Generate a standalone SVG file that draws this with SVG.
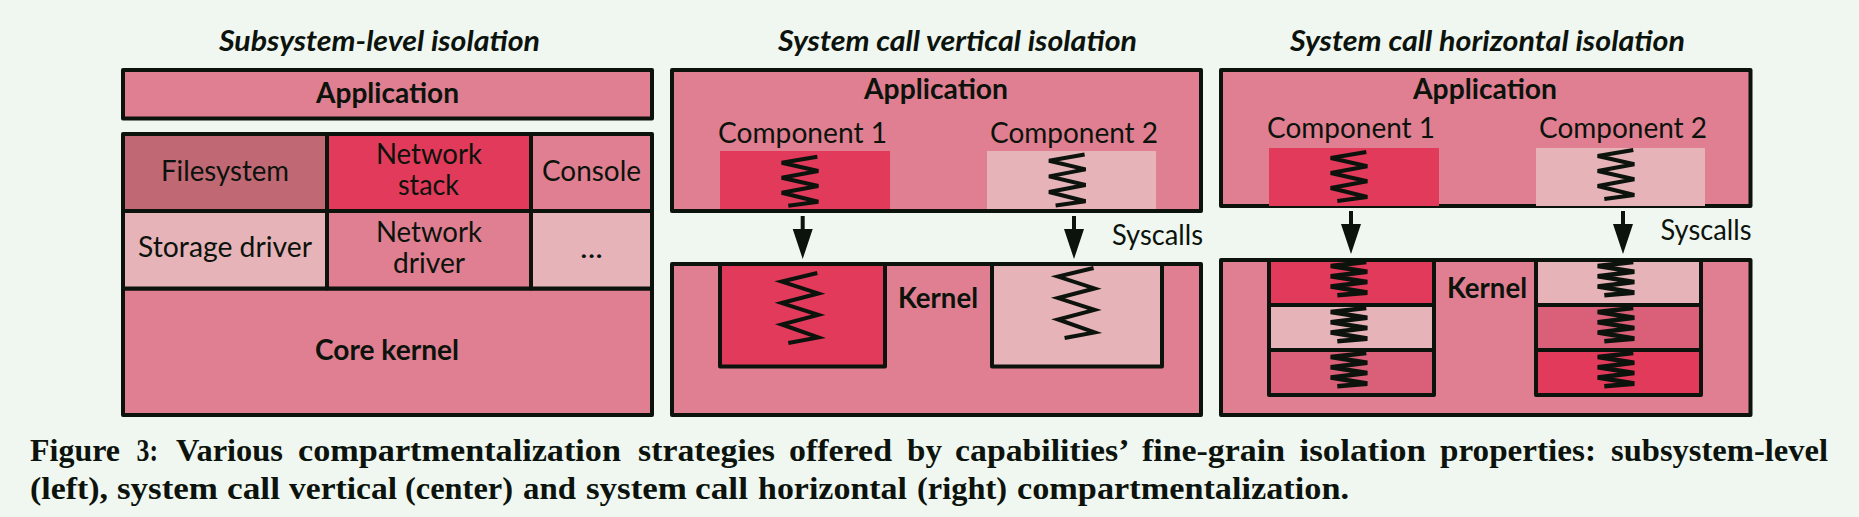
<svg xmlns="http://www.w3.org/2000/svg" width="1859" height="517" viewBox="0 0 1859 517">
<style>
.b{stroke:#0c130c;stroke-width:4;stroke-linejoin:round}
.m{fill:#e07f91}.r{fill:#e23a5a}.l{fill:#e6b3b9}.d{fill:#c06874}.v{fill:#d96078}
text{font-family:Lato,"Liberation Sans",sans-serif;fill:#0c130c}
.t{font-size:29px}
.h{font-size:29px;font-weight:700}
.i{font-size:29px;font-weight:700;font-style:italic}
.c{font-family:"Liberation Serif",serif;font-size:31px;font-weight:700}
.s{fill:none;stroke:#0c130c;stroke-width:4;vector-effect:non-scaling-stroke}
.k{fill:none;stroke:#0c130c;stroke-width:4.600;vector-effect:non-scaling-stroke}
</style>
<defs>
<path id="sp" class="s" d="M35.600,0 L0,6 L36.600,14.300 L0,21 L36.600,29.300 L0,36 L36.600,45 L6.600,49"/>
<path id="sk" class="k" d="M35.600,0 L0,6 L36.600,14.300 L0,21 L36.600,29.300 L0,36 L36.600,45 L6.600,49"/>
<path id="ar" fill="#0c130c" d="M-2,0 h4 v13 h8 l-10,30 l-10,-30 h8 z"/>
</defs>
<rect width="1859" height="517" fill="#f0f7f1"/>
<text class="i" x="219" y="51" textLength="321" lengthAdjust="spacingAndGlyphs">Subsystem-level isolation</text>
<text class="i" x="778" y="51" textLength="359" lengthAdjust="spacingAndGlyphs">System call vertical isolation</text>
<text class="i" x="1290" y="51" textLength="395" lengthAdjust="spacingAndGlyphs">System call horizontal isolation</text>

<g id="left-application"><rect class="b m" x="123" y="70" width="529" height="48.500"/><text class="h" x="316" y="102.500" textLength="143" lengthAdjust="spacingAndGlyphs">Application</text></g>
<g id="left-core-kernel"><rect class="b m" x="123" y="288.500" width="529" height="126.500"/><text class="h" x="315" y="359.500" textLength="144" lengthAdjust="spacingAndGlyphs">Core kernel</text></g>
<g id="left-filesystem"><rect class="b d" x="123" y="134" width="204" height="77"/><text class="t" x="161" y="180.500" textLength="128" lengthAdjust="spacingAndGlyphs">Filesystem</text></g>
<g id="left-network-stack"><rect class="b r" x="327" y="134" width="204" height="77"/><text class="t"><tspan x="376" y="164" textLength="106" lengthAdjust="spacingAndGlyphs">Network</tspan> <tspan x="398" y="195" textLength="61" lengthAdjust="spacingAndGlyphs">stack</tspan></text></g>
<g id="left-console"><rect class="b m" x="531" y="134" width="121" height="77"/><text class="t" x="542" y="180.500" textLength="99" lengthAdjust="spacingAndGlyphs">Console</text></g>
<g id="left-storage-driver"><rect class="b l" x="123" y="211" width="204" height="77.500"/><text class="t" x="138" y="257" textLength="174" lengthAdjust="spacingAndGlyphs">Storage driver</text></g>
<g id="left-network-driver"><rect class="b m" x="327" y="211" width="204" height="77.500"/><text class="t"><tspan x="376" y="242" textLength="106" lengthAdjust="spacingAndGlyphs">Network</tspan> <tspan x="393" y="273" textLength="72" lengthAdjust="spacingAndGlyphs">driver</tspan></text></g>
<g id="left-more"><rect class="b l" x="531" y="211" width="121" height="77.500"/><text class="t" x="580" y="258" textLength="23" lengthAdjust="spacingAndGlyphs">...</text></g>

<g id="center-application"><rect class="b m" x="672" y="70" width="529" height="141"/><text class="h" x="864" y="99" textLength="144" lengthAdjust="spacingAndGlyphs">Application</text></g>
<g id="center-component-1"><text class="t" x="718" y="142.500" textLength="169" lengthAdjust="spacingAndGlyphs">Component 1</text><rect class="r" x="720" y="151" width="170" height="58"/><use href="#sp" transform="translate(781.700,156.700)"/></g>
<g id="center-component-2"><text class="t" x="990" y="142.500" textLength="168" lengthAdjust="spacingAndGlyphs">Component 2</text><rect class="l" x="987" y="151" width="169" height="58"/><use href="#sp" transform="translate(1049,154.500) scale(1,1.040)"/></g>
<g id="center-kernel"><rect class="b m" x="672" y="264" width="529" height="151"/><text class="h" x="898" y="308" textLength="80" lengthAdjust="spacingAndGlyphs">Kernel</text></g>
<g id="center-kernel-1"><rect class="b r" x="720" y="264" width="165" height="102.500"/><use href="#sp" transform="translate(781.700,273) scale(1,1.430)"/></g>
<g id="center-kernel-2"><rect class="b l" x="992" y="264" width="170" height="102.500"/><use href="#sp" transform="translate(1058,268) scale(1,1.430)"/></g>
<text class="t" x="1112" y="245" textLength="91" lengthAdjust="spacingAndGlyphs">Syscalls</text>

<g id="right-application"><rect class="b m" x="1221" y="70" width="529.500" height="136"/><text class="h" x="1413" y="99" textLength="144" lengthAdjust="spacingAndGlyphs">Application</text></g>
<g id="right-component-1"><text class="t" x="1267" y="138" textLength="168" lengthAdjust="spacingAndGlyphs">Component 1</text><rect class="r" x="1269" y="148" width="170" height="58"/><use href="#sp" transform="translate(1330.700,152)"/></g>
<g id="right-component-2"><text class="t" x="1539" y="138" textLength="168" lengthAdjust="spacingAndGlyphs">Component 2</text><rect class="l" x="1536" y="148" width="169" height="58"/><use href="#sp" transform="translate(1597.700,150)"/></g>
<g id="right-kernel"><rect class="b m" x="1221" y="260" width="529.500" height="155"/><text class="h" x="1447" y="298" textLength="80" lengthAdjust="spacingAndGlyphs">Kernel</text></g>
<g id="right-stack-1">
<rect class="b r" x="1269" y="260" width="165" height="45"/><use href="#sk" transform="translate(1330.700,262) scale(1,0.680)"/>
<rect class="b l" x="1269" y="305" width="165" height="45"/><use href="#sk" transform="translate(1330.700,308) scale(1,0.680)"/>
<rect class="b v" x="1269" y="350" width="165" height="45"/><use href="#sk" transform="translate(1330.700,353) scale(1,0.680)"/>
</g>
<g id="right-stack-2">
<rect class="b l" x="1536" y="260" width="165" height="45"/><use href="#sk" transform="translate(1597.700,262) scale(1,0.680)"/>
<rect class="b v" x="1536" y="305" width="165" height="45"/><use href="#sk" transform="translate(1597.700,308) scale(1,0.680)"/>
<rect class="b r" x="1536" y="350" width="165" height="45"/><use href="#sk" transform="translate(1597.700,353) scale(1,0.680)"/>
</g>
<text class="t" x="1660.500" y="240" textLength="91" lengthAdjust="spacingAndGlyphs">Syscalls</text>

<g id="connectors">
<use href="#ar" x="802.700" y="216"/>
<use href="#ar" x="1074" y="216"/>
<use href="#ar" x="1351" y="211"/>
<use href="#ar" x="1623" y="211"/>
</g>

<text class="c" y="460.500"><tspan x="30" textLength="90" lengthAdjust="spacingAndGlyphs">Figure</tspan> <tspan x="136.500" textLength="21.500" lengthAdjust="spacingAndGlyphs">3:</tspan> <tspan x="176" textLength="107" lengthAdjust="spacingAndGlyphs">Various</tspan> <tspan x="298" textLength="323" lengthAdjust="spacingAndGlyphs">compartmentalization</tspan> <tspan x="638" textLength="137" lengthAdjust="spacingAndGlyphs">strategies</tspan> <tspan x="789" textLength="103" lengthAdjust="spacingAndGlyphs">offered</tspan> <tspan x="907" textLength="35" lengthAdjust="spacingAndGlyphs">by</tspan> <tspan x="955" textLength="172" lengthAdjust="spacingAndGlyphs">capabilities’</tspan> <tspan x="1142" textLength="143" lengthAdjust="spacingAndGlyphs">fine-grain</tspan> <tspan x="1299.500" textLength="126.500" lengthAdjust="spacingAndGlyphs">isolation</tspan> <tspan x="1440" textLength="156" lengthAdjust="spacingAndGlyphs">properties:</tspan> <tspan x="1611" textLength="217" lengthAdjust="spacingAndGlyphs">subsystem-level</tspan></text>
<text class="c" y="499"><tspan x="30" textLength="78" lengthAdjust="spacingAndGlyphs">(left),</tspan> <tspan x="117" textLength="101" lengthAdjust="spacingAndGlyphs">system</tspan> <tspan x="227" textLength="53" lengthAdjust="spacingAndGlyphs">call</tspan> <tspan x="289" textLength="108" lengthAdjust="spacingAndGlyphs">vertical</tspan> <tspan x="405" textLength="108" lengthAdjust="spacingAndGlyphs">(center)</tspan> <tspan x="523" textLength="53" lengthAdjust="spacingAndGlyphs">and</tspan> <tspan x="586" textLength="101" lengthAdjust="spacingAndGlyphs">system</tspan> <tspan x="695" textLength="53" lengthAdjust="spacingAndGlyphs">call</tspan> <tspan x="758" textLength="149" lengthAdjust="spacingAndGlyphs">horizontal</tspan> <tspan x="917" textLength="90" lengthAdjust="spacingAndGlyphs">(right)</tspan> <tspan x="1017" textLength="332" lengthAdjust="spacingAndGlyphs">compartmentalization.</tspan></text>
</svg>
